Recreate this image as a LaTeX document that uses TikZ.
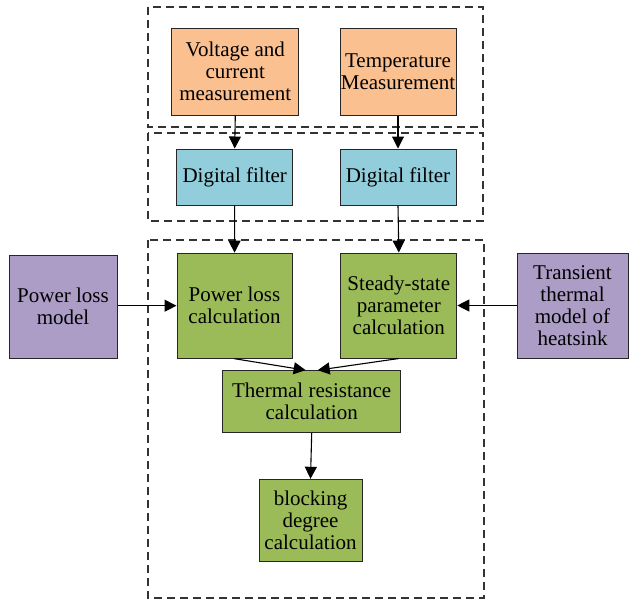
\documentclass[tikz,border=0pt]{standalone}
\usepackage{fontspec}
\setmainfont{Liberation Serif}
\usetikzlibrary{arrows.meta}
\definecolor{measure}{HTML}{FAC090}
\definecolor{filter}{HTML}{92CDDC}
\definecolor{calc}{HTML}{9BBB59}
\definecolor{model}{HTML}{AC9DC6}
\definecolor{edge}{HTML}{262626}

\begin{document}
\begin{tikzpicture}[x=1pt, y=-1pt, line width=1pt,
  box/.style={draw=edge, align=center, inner sep=0pt,
    font=\fontsize{21}{22}\selectfont},
  frame/.style={draw=black!80, line width=1.3pt, dash pattern=on 8pt off 5pt},
  flow/.style={-{Triangle[length=12pt,width=12pt]}, line width=1.1pt}]
  \useasboundingbox (0,0) rectangle (629,600);
  % dashed groups
  \draw[frame] (148,7) rectangle (483,127);
  \draw[frame] (148,133) rectangle (483,221);
  \draw[frame] (148,240) rectangle (484,598);
  % measurement
  \node[box, fill=measure, minimum width=127, minimum height=87] (vcm) at (235.3,71.5) {Voltage and\\current\\measurement};
  \node[box, fill=measure, minimum width=116, minimum height=87] (tmp) at (398,71.5) {Temperature\\Measurement};
  % filters
  \node[box, fill=filter, minimum width=116, minimum height=56] (fil1) at (234.7,177) {Digital filter};
  \node[box, fill=filter, minimum width=116, minimum height=56] (fil2) at (398,177) {Digital filter};
  % calculation
  \node[box, fill=calc, minimum width=115, minimum height=105] (plc) at (234.5,305.7) {Power loss\\calculation};
  \node[box, fill=calc, minimum width=116, minimum height=105] (ssp) at (398.8,305.5) {Steady-state\\parameter\\calculation};
  \node[box, fill=calc, minimum width=178, minimum height=62] (trc) at (311.7,401.7) {Thermal resistance\\calculation};
  \node[box, fill=calc, minimum width=103, minimum height=82] (bdc) at (310.5,520.3) {blocking\\degree\\calculation};
  % models
  \node[box, fill=model, minimum width=108, minimum height=103] (plm) at (63,306.7) {Power loss\\model};
  \node[box, fill=model, minimum width=111, minimum height=105] (ttm) at (572.5,305.5) {Transient\\thermal\\model of\\heatsink};
  % arrows
  \draw[flow] (vcm.south) -- (fil1.north);
  \draw[flow] (tmp.south) -- (fil2.north);
  \draw[flow] (fil1.south) -- (plc.north);
  \draw[flow] (fil2.south) -- (ssp.north);
  \draw[flow] (plm.east |- plc) -- (plc.west);
  \draw[flow] (ttm.west |- ssp) -- (ssp.east);
  \draw[flow] (plc.south) -- ([xshift=-6pt]trc.north);
  \draw[flow] (ssp.south) -- ([xshift=6pt]trc.north);
  \draw[flow] (trc.south) -- (bdc.north);
\end{tikzpicture}
\end{document}
